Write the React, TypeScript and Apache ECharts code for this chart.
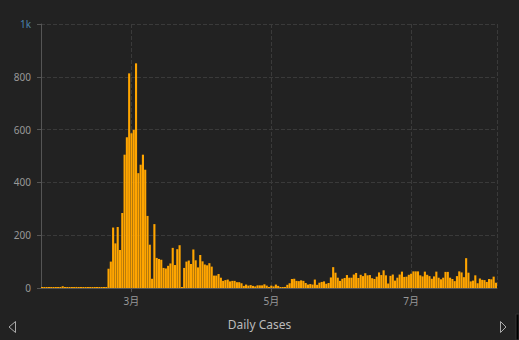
import React, { useEffect, useRef } from 'react';
import * as echarts from 'echarts';

const YEAR = 2020;
// Daily new cases, per month (first day given in the table below)
const janCases = [1, 0, 1, 0, 1, 1, 0, 0, 0, 7]; // Jan 22 - 31
const febCases = [1, 3, 0, 1, 3, 4, 1, 0, 1, 2, 1, 0, 0, 0, 0, 1, 1, 1, 0, 73, 100, 229, 169, 231, 144, 284, 505, 571, 813];
const marCases = [586, 599, 851, 435, 467, 505, 448, 273, 164, 35, 242, 114, 110, 107, 76, 74, 84, 93, 152, 87, 147, 162, 0, 76, 100, 104, 91, 146, 105, 78, 125];
const aprCases = [101, 89, 86, 94, 81, 47, 47, 53, 39, 27, 30, 32, 25, 27, 27, 22, 22, 18, 8, 13, 9, 11, 8, 6, 10, 10, 10, 14, 9, 4];
const mayCases = [9, 6, 13, 8, 3, 2, 4, 12, 18, 34, 35, 27, 26, 29, 27, 19, 13, 15, 13, 32, 12, 20, 23, 25, 16, 19, 40, 79, 58, 39, 27];
const junCases = [35, 38, 49, 39, 39, 51, 57, 38, 50, 45, 56, 48, 49, 37, 34, 43, 59, 49, 67, 48, 17, 46, 51, 28, 39, 51, 62, 42, 43, 50];
const julCases = [54, 63, 63, 63, 48, 44, 62, 50, 45, 35, 44, 62, 39, 33, 39, 61, 61, 39, 34, 26, 45, 63, 59, 41, 113, 58, 25, 28, 48, 18, 36];
const augCases = [31, 30, 23, 34, 33, 43, 20]; // Aug 1 - 7

// [monthIndex, firstDay, values]
const monthBlocks: [number, number, number[]][] = [
  [0, 22, janCases],
  [1, 1, febCases],
  [2, 1, marCases],
  [3, 1, aprCases],
  [4, 1, mayCases],
  [5, 1, junCases],
  [6, 1, julCases],
  [7, 1, augCases],
];

const yMax = 1000;
const yInterval = 200;
const seriesName = 'Daily Cases';

const FONT = '"Noto Sans", "Noto Sans CJK SC", sans-serif';

export default function App() {
  const ref = useRef<HTMLDivElement>(null);
  useEffect(() => {
    if (!ref.current) return;
    const chart = echarts.init(ref.current, null, { renderer: 'svg' });
    const data: [number, number][] = [];
    monthBlocks.forEach(([m, d0, vals]) => {
      vals.forEach((v, i) => {
        data.push([new Date(YEAR, m, d0 + i).getTime(), v]);
      });
    });
    chart.setOption({
      animation: false,
      backgroundColor: '#222222',
      textStyle: { fontFamily: FONT },
      grid: { left: 41, right: 22, top: 24, bottom: 52, containLabel: false },
      xAxis: {
        type: 'time',
        splitNumber: 3,
        axisLine: { show: true, lineStyle: { color: '#555555' } },
        axisTick: { show: true, length: 4, lineStyle: { color: '#555555' } },
        axisLabel: {
          color: '#999999',
          fontSize: 10,
          fontFamily: FONT,
          margin: 8,
          formatter: (v: number) => new Date(v).getMonth() + 1 + '月',
        },
        splitLine: { show: true, lineStyle: { color: '#3a3a3a', type: 'dashed' } },
      },
      yAxis: {
        type: 'value',
        min: 0,
        max: yMax,
        interval: yInterval,
        axisLine: { show: true, lineStyle: { color: '#555555' } },
        axisTick: { show: true, length: 4, lineStyle: { color: '#555555' } },
        axisLabel: {
          color: '#999999',
          fontSize: 10,
          fontFamily: FONT,
          margin: 10,
          formatter: (v: number) => (v >= 1000 ? '{k|' + v / 1000 + 'k}' : String(v)),
          rich: { k: { color: '#4a82ad', fontSize: 10, fontFamily: FONT } },
        },
        splitLine: { show: true, lineStyle: { color: '#3a3a3a', type: 'dashed' } },
      },
      series: [
        {
          name: seriesName,
          type: 'bar',
          data,
          barCategoryGap: '8%',
          itemStyle: { color: '#FFA500' },
          barMinHeight: 1,
        },
      ],
      graphic: [
        {
          type: 'text',
          left: 'center',
          top: 318,
          style: { text: seriesName, fill: '#bbbbbb', fontSize: 12, fontFamily: FONT },
        },
        {
          type: 'polygon',
          shape: { points: [[9, 327], [15.5, 321.5], [15.5, 332.5]] },
          style: { fill: 'none', stroke: '#aaaaaa', lineWidth: 1 },
        },
        {
          type: 'polygon',
          shape: { points: [[506, 327], [500.5, 321.5], [500.5, 332.5]] },
          style: { fill: 'none', stroke: '#aaaaaa', lineWidth: 1 },
        },
        {
          type: 'rect',
          shape: { x: 516, y: 314, width: 3, height: 26 },
          style: { fill: '#000000', stroke: '#333333', lineWidth: 1 },
        },
      ],
    });
    return () => chart.dispose();
  }, []);
  return (
    <div
      ref={ref}
      style={{ position: 'absolute', left: 0, top: 0, width: 519, height: 340 }}
    />
  );
}
